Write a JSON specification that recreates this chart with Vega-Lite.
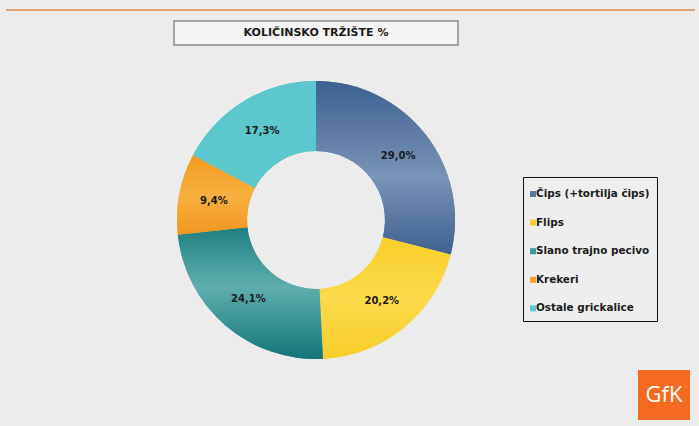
{
  "$schema": "https://vega.github.io/schema/vega-lite/v6.json",
  "background": "#ececec",
  "padding": {"left": 6, "top": 9, "right": 4, "bottom": 7},
  "config": {
    "view": {"stroke": null},
    "font": "DejaVu Sans",
    "locale": {"number": {"decimal": ",", "thousands": ".", "grouping": [3], "currency": ["", " €"]}}
  },
  "datasets": {
    "market": [
      {"kategorija": "Čips (+tortilja čips)", "udio": 0.290, "redoslijed": 1},
      {"kategorija": "Flips", "udio": 0.202, "redoslijed": 2},
      {"kategorija": "Slano trajno pecivo", "udio": 0.241, "redoslijed": 3},
      {"kategorija": "Krekeri", "udio": 0.094, "redoslijed": 4},
      {"kategorija": "Ostale grickalice", "udio": 0.173, "redoslijed": 5}
    ]
  },
  "resolve": {"scale": {"color": "shared"}, "legend": {"color": "shared"}},
  "spacing": 9,
  "vconcat": [
    {
      "width": 689,
      "height": 2,
      "view": {"fill": "#e2a472", "stroke": null},
      "data": {"values": [{"prazno": ""}]},
      "mark": {"type": "text", "fontSize": 0},
      "encoding": {"text": {"field": "prazno", "type": "nominal"}}
    },
    {
      "spacing": 0,
      "resolve": {"scale": {"color": "shared"}, "legend": {"color": "shared"}},
      "hconcat": [
        {
          "width": 167,
          "height": 2,
          "data": {"values": [{"prazno": ""}]},
          "mark": {"type": "text", "fontSize": 0},
          "encoding": {"text": {"field": "prazno", "type": "nominal"}}
        },
        {
          "spacing": 179,
          "resolve": {"scale": {"color": "shared"}, "legend": {"color": "shared"}},
          "hconcat": [
            {
              "spacing": 32,
              "resolve": {"scale": {"color": "shared"}, "legend": {"color": "shared"}},
              "vconcat": [
                {
                  "width": 284,
                  "height": 24,
                  "view": {"fill": "#f4f4f4", "stroke": "#8c8c8c", "strokeWidth": 1.5},
                  "data": {"values": [{"naslov": "KOLIČINSKO TRŽIŠTE %"}]},
                  "mark": {"type": "text", "font": "DejaVu Sans", "fontSize": 11, "fontWeight": "bold", "color": "#1a1a1a"},
                  "encoding": {"text": {"field": "naslov", "type": "nominal"}}
                },
                {
                  "width": 284,
                  "height": 284,
                  "data": {"name": "market"},
                  "encoding": {
                    "theta": {"field": "udio", "type": "quantitative", "stack": true},
                    "order": {"field": "redoslijed", "type": "quantitative"}
                  },
                  "layer": [
                    {
                      "mark": {"type": "arc", "innerRadius": 69, "outerRadius": 139},
                      "encoding": {
                        "color": {
                          "field": "kategorija",
                          "type": "nominal",
                          "sort": ["Čips (+tortilja čips)", "Flips", "Slano trajno pecivo", "Krekeri", "Ostale grickalice"],
                          "scale": {
                            "domain": ["Čips (+tortilja čips)", "Flips", "Slano trajno pecivo", "Krekeri", "Ostale grickalice"],
                            "range": ["#5877a0", "#f9d232", "#3a9b9a", "#f6a42e", "#5cc7cc"]
                          },
                          "legend": {
                            "title": null,
                            "orient": "none",
                            "legendX": 517,
                            "legendY": 168,
                            "strokeColor": "#111111",
                            "fillColor": "#eeeeee",
                            "padding": 7,
                            "rowPadding": 12.6,
                            "symbolType": "M-1,-0.3H-0.4V0.3H-1Z",
                            "symbolSize": 400,
                            "symbolStrokeWidth": 0,
                            "labelFont": "DejaVu Sans",
                            "labelFontSize": 10.4,
                            "labelFontWeight": "bold",
                            "labelColor": "#1a1a1a",
                            "labelOffset": -14
                          }
                        }
                      }
                    },
                    {
                      "mark": {"type": "arc", "innerRadius": 69, "outerRadius": 139},
                      "encoding": {
                        "detail": {"field": "kategorija", "type": "nominal"},
                        "fill": {
                          "condition": [
                            {"test": "datum.kategorija === 'Čips (+tortilja čips)'", "value": {"gradient": "linear", "x1": 0, "y1": 0, "x2": 0, "y2": 1, "stops": [{"offset": 0, "color": "#3d608e"}, {"offset": 0.55, "color": "#7a93b6"}, {"offset": 1, "color": "#3c6190"}]}},
                            {"test": "datum.kategorija === 'Flips'", "value": {"gradient": "linear", "x1": 0, "y1": 0, "x2": 0, "y2": 1, "stops": [{"offset": 0, "color": "#f8cf2a"}, {"offset": 0.5, "color": "#fcdb4a"}, {"offset": 1, "color": "#f7cd28"}]}},
                            {"test": "datum.kategorija === 'Slano trajno pecivo'", "value": {"gradient": "linear", "x1": 0, "y1": 0, "x2": 0, "y2": 1, "stops": [{"offset": 0, "color": "#1f7f80"}, {"offset": 0.45, "color": "#5eafad"}, {"offset": 1, "color": "#137677"}]}},
                            {"test": "datum.kategorija === 'Krekeri'", "value": {"gradient": "linear", "x1": 0, "y1": 0, "x2": 0, "y2": 1, "stops": [{"offset": 0, "color": "#f39a22"}, {"offset": 0.5, "color": "#f8b03e"}, {"offset": 1, "color": "#f29620"}]}}
                          ],
                          "value": "#5cc7cc"
                        }
                      }
                    },
                    {
                      "mark": {"type": "text", "radius": 104, "font": "DejaVu Sans", "fontSize": 10, "fontWeight": "bold"},
                      "encoding": {
                        "text": {"field": "udio", "type": "quantitative", "format": ".1%"},
                        "detail": {"field": "kategorija", "type": "nominal"},
                        "color": {"value": "#1a1a1a"}
                      }
                    }
                  ]
                }
              ]
            },
            {
              "spacing": 0,
              "vconcat": [
                {
                  "width": 52,
                  "height": 349,
                  "data": {"values": [{"prazno": ""}]},
                  "mark": {"type": "text", "fontSize": 0},
                  "encoding": {"text": {"field": "prazno", "type": "nominal"}}
                },
                {
                  "width": 52,
                  "height": 50,
                  "view": {"fill": "#f26b21", "stroke": null},
                  "data": {"values": [{"logo": "GfK"}]},
                  "mark": {"type": "text", "font": "Open Sans", "fontSize": 22, "color": "#ffffff"},
                  "encoding": {"text": {"field": "logo", "type": "nominal"}}
                }
              ]
            }
          ]
        }
      ]
    }
  ]
}
